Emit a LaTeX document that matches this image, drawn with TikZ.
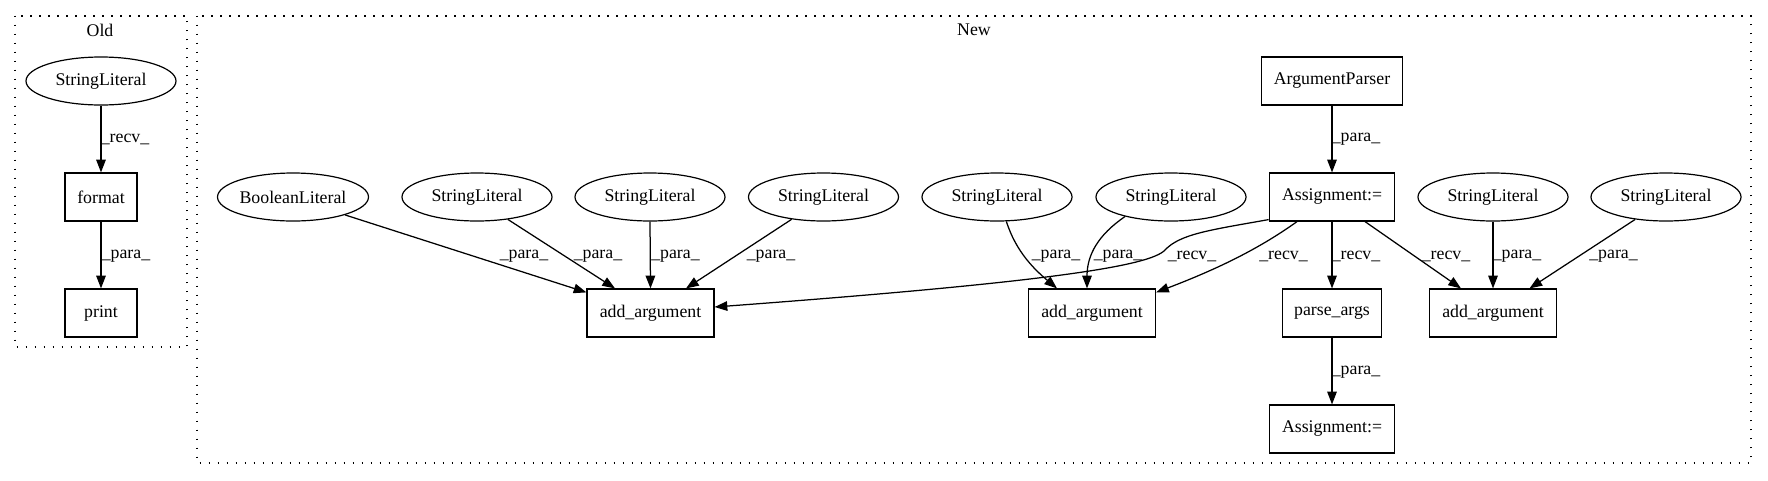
\documentclass[tikz,border=0pt]{standalone}
\usepackage{fontspec}
\setmainfont{Liberation Serif}
\usetikzlibrary{shapes.geometric,arrows.meta,calc}
\begin{document}
\begin{tikzpicture}[x=1pt,y=-1pt,
  every node/.style={font=\fontsize{17.8}{20}\selectfont},
  ell/.style={ellipse,draw,line width=1.2pt,minimum width=150pt,minimum height=48pt,inner sep=0pt},
  bx/.style={rectangle,draw,line width=1.2pt,minimum height=48pt,inner sep=0pt,minimum width=#1},
  edge/.style={draw,line width=1.25pt,-{Triangle[length=12.7pt,width=9.5pt]}},
  lbl/.style={inner sep=0pt},
  clus/.style={draw,line width=1.7pt,dash pattern=on 1.7pt off 7.3pt}]
\useasboundingbox (0,0) rectangle (1768,480);
% clusters
\draw[clus] (15.3,15.7) rectangle (186.8,347.3);
\draw[clus] (197,15.7) rectangle (1751,463);
\node[lbl] (oldlbl) at (100,30) {Old};
\node[lbl] (newlbl) at (974,30) {New};
% Old
\node[ell] (oldsl) at (101,81) {StringLiteral};
\node[bx=72pt] (format) at (101,197) {format};
\node[bx=72pt] (print) at (101,313) {print};
% New row of literals
\node[ell] (bool) at (293,197) {BooleanLiteral};
\node[ell] (sl2) at (477,197) {StringLiteral};
\node[ell] (sl3) at (650,197) {StringLiteral};
\node[ell] (sl4) at (823.5,197) {StringLiteral};
\node[ell] (sl5) at (997,197) {StringLiteral};
\node[ell] (sl6) at (1171,197) {StringLiteral};
\node[ell] (sl7) at (1493,197) {StringLiteral};
\node[ell] (sl8) at (1666,197) {StringLiteral};
\node[bx=141.6pt] (argp) at (1332,81) {ArgumentParser};
\node[bx=125.6pt] (assign) at (1332,197) {Assignment:=};
\node[bx=127pt] (add1) at (650.5,313) {add\_argument};
\node[bx=127pt] (add2) at (1092,313) {add\_argument};
\node[bx=98.6pt] (parse) at (1332,313) {parse\_args};
\node[bx=127pt] (add3) at (1493,313) {add\_argument};
\node[bx=125.6pt] (assign2) at (1332,429) {Assignment:=};
% Old edges
\path[edge] (oldsl.south) -- (format.north);
\path[edge] (format.south) -- (print.north);
\node[lbl] (l1) at (125,139) {\_recv\_};
\node[lbl] (l2) at (126,256) {\_para\_};
% New edges
\path[edge] (bool.-19) -- ($(add1.north west)+(0,4)$);
\node[lbl] (l3) at (524,256) {\_para\_};
\path[edge] (sl2.-36) -- ($(add1.north)+(-35.5,0)$);
\node[lbl] (l4) at (598,256) {\_para\_};
\path[edge] (sl3.south) -- (add1.north);
\node[lbl] (l5) at (675.5,256) {\_para\_};
\path[edge] (sl4.-145) -- ($(add1.north)+(35.5,0)$);
\node[lbl] (l6) at (771,256) {\_para\_};
\path[edge] (sl5.-69) .. controls (1016,252) and (1035,270) .. ($(add2.north)+(-35,0)$);
\node[lbl] (l7) at (1056,256) {\_para\_};
\path[edge] (sl6.-157) .. controls (1098,235) and (1087,255) .. ($(add2.north)+(-5,0)$);
\node[lbl] (l8) at (1118,256) {\_para\_};
\path[edge] ($(assign.south west)+(0,-2)$) .. controls (1210,230) and (1180,234) .. (1165,250)
   .. controls (1150,266) and (1050,282) .. ($(add1.east)+(0,-6)$);
\node[lbl] (l9) at (1192,256) {\_recv\_};
\path[edge] ($(assign.south)+(-35,0)$) .. controls (1260,248) and (1220,268) .. ($(add2.north east)+(0,4)$);
\node[lbl] (l10) at (1283.5,256) {\_recv\_};
\path[edge] (assign.south) -- (parse.north);
\node[lbl] (l11) at (1356,256) {\_recv\_};
\path[edge] ($(assign.south)+(33,0)$) -- ($(add3.north)+(-32,0)$);
\node[lbl] (l12) at (1446,256) {\_recv\_};
\path[edge] (sl7.south) -- (add3.north);
\node[lbl] (l13) at (1517,256) {\_para\_};
\path[edge] (sl8.-144.6) -- ($(add3.north)+(36.5,0)$);
\node[lbl] (l14) at (1613.5,256) {\_para\_};
\path[edge] (argp.south) -- (assign.north);
\node[lbl] (l15) at (1356,139) {\_para\_};
\path[edge] (parse.south) -- (assign2.north);
\node[lbl] (l16) at (1356,372) {\_para\_};
\end{tikzpicture}
\end{document}
